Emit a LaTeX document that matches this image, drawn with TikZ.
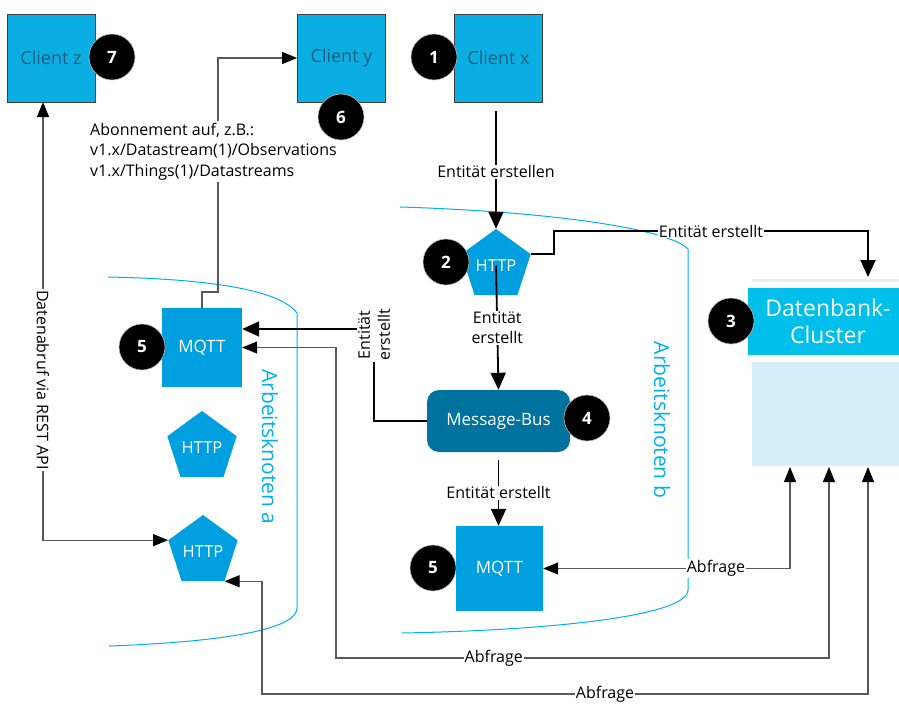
\documentclass[tikz,border=0pt]{standalone}
\usepackage{fontspec}
\setmainfont{Open Sans}
\usetikzlibrary{shapes.geometric,arrows.meta,calc}
\definecolor{cli}{HTML}{0BAEE2}
\definecolor{clitext}{HTML}{1D5E7E}
\definecolor{svc}{HTML}{009FDF}
\definecolor{bus}{HTML}{00729E}
\definecolor{dbhead}{HTML}{00BFEA}
\definecolor{dbbody}{HTML}{D5EEF9}
\definecolor{dbline}{HTML}{E4F3FA}
\definecolor{zone}{HTML}{00B0F0}
\definecolor{gline}{HTML}{595959}
\begin{document}
\begin{tikzpicture}[x=1pt,y=-1pt,
  client/.style={draw=black!75, line width=0.8pt, fill=cli, minimum width=88pt, minimum height=88pt, inner sep=0pt, text=clitext, font=\fontsize{18}{20}\selectfont},
  sq/.style={fill=svc, text=white, inner sep=0pt, font=\fontsize{17}{19}\selectfont},
  pent/.style={regular polygon, regular polygon sides=5, minimum size=73pt, inner sep=0pt, fill=svc, text=white, font=\fontsize{16.5}{18}\selectfont},
  badge/.style={circle, fill=black, draw=black!25, line width=0.6pt, minimum size=46pt, inner sep=0pt, text=white, font=\bfseries\fontsize{17}{19}\selectfont},
  main/.style={draw=black, line width=1.8pt, -{Triangle[length=17pt,width=15pt]}},
  thinline/.style={draw=gline, line width=1.2pt, >={Triangle[length=15pt,width=12pt,color=black]}},
  lbl/.style={fill=white, inner sep=1pt, text=black, font=\fontsize{16}{19}\selectfont},
  zoneline/.style={draw=zone, line width=1pt},
  zonelbl/.style={text=zone, font=\fontsize{21}{24}\selectfont, rotate=-90}
]
\useasboundingbox (0,0) rectangle (899,704);

% zones
\draw[zoneline] (108,277) .. controls (210,279) and (280,290) .. (297,313) -- (297,608) .. controls (297,630) and (220,642) .. (109,646);
\draw[zoneline] (400,207) .. controls (560,212) and (670,230) .. (688,249) -- (688,590) .. controls (688,615) and (560,630) .. (402,633);
\node[zonelbl] (za) at (270,447) {Arbeitsknoten a};
\node[zonelbl] (zb) at (662,420) {Arbeitsknoten b};

% clients
\node[client] (cz) at (51,58) {Client z};
\node[client] (cy) at (341.5,58) {Client y};
\node[client] (cx) at (498.5,58) {Client x};

% services
\node[pent] (h2) at (496,265.5) {HTTP};
\node[pent] (hm) at (202,447.5) {HTTP};
\node[pent] (h3) at (203,551.5) {HTTP};
\node[sq, minimum width=80pt, minimum height=79pt] (mqa) at (202,347.5) {MQTT};
\node[sq, minimum width=87pt, minimum height=85pt] (mqb) at (499.5,568.5) {MQTT};
\node[fill=bus, rounded corners=12pt, minimum width=143pt, minimum height=62pt, inner sep=0pt, text=white, font=\fontsize{17}{19}\selectfont] (mb) at (498.5,421) {Message-Bus};

% database
\fill[dbline] (752,279) rectangle (910,282);
\node[fill=dbhead, minimum width=160pt, minimum height=67pt, inner sep=0pt, text=white, align=center, font=\fontsize{23}{27}\selectfont] (dbh) at (828,321.5) {Datenbank-\\Cluster};
\node[fill=dbbody, minimum width=156pt, minimum height=104pt, inner sep=0pt] (dbb) at (830,414) {};

% coordinates
\coordinate (dbin) at (868,277);
\coordinate (k1) at (554,231);
\coordinate (k2) at (374,329);
\coordinate (q1) at (790,467);
\coordinate (q2) at (829,467);
\coordinate (q3) at (868,467);
\coordinate (r2) at (336,658);
\coordinate (r3) at (262,694);
\coordinate (r0) at (43,102);
\coordinate (s1) at (218,292);

% main flow
\draw[main, shorten <=9pt] (cx.south -| h2.north) -- (h2.north) node[lbl, pos=0.55] {Entität erstellen};
\draw[main] (h2.corner 5) -| (k1) -- (k1 -| dbin) node[lbl, midway] {Entität erstellt} -- (dbin);
\draw[main] (h2.center) -- (mb.north) node[lbl, midway, align=center, font=\fontsize{16}{20}\selectfont] {Entität\\erstellt};
\draw[main, shorten <=8pt] (mb.south) -- (mb.south |- mqb.north) node[lbl, pos=0.55] {Entität erstellt};
\draw[main] (mb.west) -| (k2) -- (k2 -| mqa.east);
\node[lbl, rotate=90, align=center, font=\fontsize{16}{20}\selectfont] (lb1) at (374,335) {Entität\\erstellt};

% thin connectors
\draw[thinline, ->] (mqa.north) |- (s1) |- (cy.west);
\node[lbl, anchor=north west, align=left, inner sep=2pt, font=\fontsize{16}{20.5}\selectfont] (abo) at (88,121) {Abonnement auf, z.B.:\\v1.x/Datastream(1)/Observations\\v1.x/Things(1)/Datastreams};
\draw[thinline, <->] (r0) |- (h3.corner 2) node[lbl, pos=0.317, rotate=-90] {Datenabruf via REST API};
\draw[thinline, <->] (q1) |- (mqb.east) node[lbl, pos=0.65] {Abfrage};
\draw[thinline, <->] (q2) |- (r2) node[lbl, pos=0.84] {Abfrage} |- (mqa.east);
\draw[thinline, <->] (q3) |- (r3) node[lbl, pos=0.717] {Abfrage} |- (h3.corner 4);

% badges
\node[badge] (b7) at (112,57) {7};
\node[badge] (b6) at (341,117) {6};
\node[badge] (b1) at (434,57) {1};
\node[badge] (b2) at (446,262) {2};
\node[badge] (b3) at (731,321) {3};
\node[badge] (b4) at (587,418) {4};
\node[badge] (b5a) at (142,347) {5};
\node[badge] (b5b) at (433,568) {5};
\end{tikzpicture}
\end{document}
